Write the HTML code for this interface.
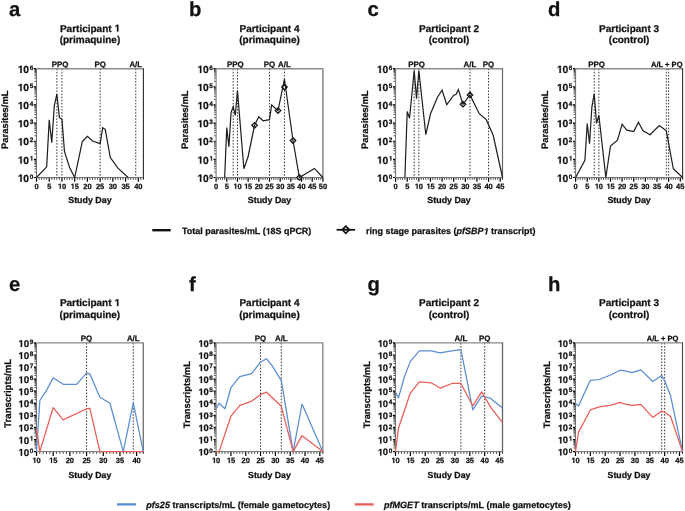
<!DOCTYPE html>
<html><head><meta charset="utf-8"><style>
html,body{margin:0;padding:0;background:#fff;}
body{width:685px;height:511px;overflow:hidden;}
svg{display:block;font-family:"Liberation Sans", sans-serif;} text{stroke:#111;stroke-width:0.25px;} .g1{fill:#111;stroke:#111;stroke-width:0.25px;} svg{will-change:transform;text-rendering:geometricPrecision;}
</style></head><body>
<svg width="685" height="511" viewBox="0 0 685 511" fill="#111">
<defs><path id="o1" d="M538 0L538 1170L200 959L200 1180L553 1409L819 1409L819 0Z" vector-effect="non-scaling-stroke"/><path id="o2" d="M440 0L664 1152L283 938L330 1180L726 1409L996 1409L721 0Z" vector-effect="non-scaling-stroke"/></defs><rect width="685" height="511" fill="#fff"></rect>
<text x="9.1" y="15.6" font-size="20.3" font-weight="bold">a</text>
<text x="89.95" y="31.6" font-size="10" font-weight="bold" text-anchor="middle">Participant  </text>
<text x="89.95" y="43.1" font-size="10" font-weight="bold" text-anchor="middle">(primaquine)</text>
<line x1="56.86" y1="68.7" x2="56.86" y2="177.5" stroke="#222" stroke-width="0.9" stroke-dasharray="1.55 1.55"></line>
<line x1="61.95" y1="68.7" x2="61.95" y2="177.5" stroke="#222" stroke-width="0.9" stroke-dasharray="1.55 1.55"></line>
<line x1="100.13" y1="68.7" x2="100.13" y2="177.5" stroke="#222" stroke-width="0.9" stroke-dasharray="1.55 1.55"></line>
<line x1="135.76" y1="68.7" x2="135.76" y2="177.5" stroke="#222" stroke-width="0.9" stroke-dasharray="1.55 1.55"></line>
<text x="60.04" y="66.6" font-size="7.9" font-weight="bold" text-anchor="middle">PPQ</text>
<text x="100.13" y="66.6" font-size="7.9" font-weight="bold" text-anchor="middle">PQ</text>
<text x="135.76" y="66.6" font-size="7.9" font-weight="bold" text-anchor="middle">A/L</text>
<path d="M36.5 68.7H143.4" fill="none" stroke="#8a8a8a" stroke-width="1.4"></path>
<path d="M143.4 68.2V179" fill="none" stroke="#2a2a2a" stroke-width="1.1"></path>
<path d="M36.5 68.7V177.5H143.4" fill="none" stroke="#707070" stroke-width="1.0"></path>
<path d="M34.5 172.04H36 M34.5 168.85H36 M34.5 166.58H36 M34.5 164.83H36 M34.5 163.39H36 M34.5 162.18H36 M34.5 161.12H36 M34.5 160.2H36 M34.5 153.91H36 M34.5 150.71H36 M34.5 148.45H36 M34.5 146.69H36 M34.5 145.26H36 M34.5 144.04H36 M34.5 142.99H36 M34.5 142.06H36 M34.5 135.77H36 M34.5 132.58H36 M34.5 130.32H36 M34.5 128.56H36 M34.5 127.12H36 M34.5 125.91H36 M34.5 124.86H36 M34.5 123.93H36 M34.5 117.64H36 M34.5 114.45H36 M34.5 112.18H36 M34.5 110.43H36 M34.5 108.99H36 M34.5 107.78H36 M34.5 106.72H36 M34.5 105.8H36 M34.5 99.51H36 M34.5 96.31H36 M34.5 94.05H36 M34.5 92.29H36 M34.5 90.86H36 M34.5 89.64H36 M34.5 88.59H36 M34.5 87.66H36 M34.5 81.37H36 M34.5 78.18H36 M34.5 75.92H36 M34.5 74.16H36 M34.5 72.72H36 M34.5 71.51H36 M34.5 70.46H36 M34.5 69.53H36 M39.05 178V179.8 M41.59 178V179.8 M44.14 178V179.8 M46.68 178V179.8 M51.77 178V179.8 M54.32 178V179.8 M56.86 178V179.8 M59.41 178V179.8 M64.5 178V179.8 M67.04 178V179.8 M69.59 178V179.8 M72.13 178V179.8 M77.22 178V179.8 M79.77 178V179.8 M82.31 178V179.8 M84.86 178V179.8 M89.95 178V179.8 M92.5 178V179.8 M95.04 178V179.8 M97.59 178V179.8 M102.68 178V179.8 M105.22 178V179.8 M107.77 178V179.8 M110.31 178V179.8 M115.4 178V179.8 M117.95 178V179.8 M120.49 178V179.8 M123.04 178V179.8 M128.13 178V179.8 M130.67 178V179.8 M133.22 178V179.8 M135.76 178V179.8 M140.85 178V179.8 M143.4 178V179.8" stroke="#222" stroke-width="0.85" fill="none"></path>
<path d="M33.9 177.5H36 M33.9 159.37H36 M33.9 141.23H36 M33.9 123.1H36 M33.9 104.97H36 M33.9 86.83H36 M33.9 68.7H36 M36.5 178V181.8 M49.23 178V181.8 M61.95 178V181.8 M74.68 178V181.8 M87.4 178V181.8 M100.13 178V181.8 M112.86 178V181.8 M125.58 178V181.8 M138.31 178V181.8" stroke="#000" stroke-width="1.2" fill="none"></path>
<text x="29.1" y="181.71" font-size="10.3" font-weight="bold" text-anchor="end"> 0</text>
<text x="29.7" y="178.7" font-size="6.4" font-weight="bold">0</text>
<text x="29.1" y="163.57" font-size="10.3" font-weight="bold" text-anchor="end"> 0</text>
<text x="29.7" y="160.57" font-size="6.4" font-weight="bold"> </text>
<text x="29.1" y="145.44" font-size="10.3" font-weight="bold" text-anchor="end"> 0</text>
<text x="29.7" y="142.43" font-size="6.4" font-weight="bold">2</text>
<text x="29.1" y="127.31" font-size="10.3" font-weight="bold" text-anchor="end"> 0</text>
<text x="29.7" y="124.3" font-size="6.4" font-weight="bold">3</text>
<text x="29.1" y="109.17" font-size="10.3" font-weight="bold" text-anchor="end"> 0</text>
<text x="29.7" y="106.17" font-size="6.4" font-weight="bold">4</text>
<text x="29.1" y="91.04" font-size="10.3" font-weight="bold" text-anchor="end"> 0</text>
<text x="29.7" y="88.03" font-size="6.4" font-weight="bold">5</text>
<text x="29.1" y="72.91" font-size="10.3" font-weight="bold" text-anchor="end"> 0</text>
<text x="29.7" y="69.9" font-size="6.4" font-weight="bold">6</text>
<text x="36.5" y="188.8" font-size="7.5" font-weight="bold" text-anchor="middle">0</text>
<text x="49.23" y="188.8" font-size="7.5" font-weight="bold" text-anchor="middle">5</text>
<text x="61.95" y="188.8" font-size="7.5" font-weight="bold" text-anchor="middle"> 0</text>
<text x="74.68" y="188.8" font-size="7.5" font-weight="bold" text-anchor="middle"> 5</text>
<text x="87.4" y="188.8" font-size="7.5" font-weight="bold" text-anchor="middle">20</text>
<text x="100.13" y="188.8" font-size="7.5" font-weight="bold" text-anchor="middle">25</text>
<text x="112.86" y="188.8" font-size="7.5" font-weight="bold" text-anchor="middle">30</text>
<text x="125.58" y="188.8" font-size="7.5" font-weight="bold" text-anchor="middle">35</text>
<text x="138.31" y="188.8" font-size="7.5" font-weight="bold" text-anchor="middle">40</text>
<text x="89.95" y="203" font-size="8.9" font-weight="bold" text-anchor="middle">Study Day</text>
<text transform="translate(8 119.7) rotate(-90)" font-size="9.4" font-weight="bold" text-anchor="middle">Parasites/mL</text>
<polyline points="36.5,177.5 46.68,166.8 49.23,119.84 51.77,142.68 54.32,105.69 56.86,94.09 59.41,117.48 61.95,119.65 64.5,151.75 69.59,167.53 74.68,177.5 82.31,141.6 87.4,136.34 92.5,141.05 100.13,143.59 102.68,127.63 105.22,129.27 110.31,157.55 117.95,168.07 128.13,177.5" fill="none" stroke="#1c1c1c" stroke-width="1.2" stroke-linejoin="miter"></polyline>
<text x="188.9" y="15.6" font-size="20.3" font-weight="bold">b</text>
<text x="269.5" y="31.6" font-size="10" font-weight="bold" text-anchor="middle">Participant 4</text>
<text x="269.5" y="43.1" font-size="10" font-weight="bold" text-anchor="middle">(primaquine)</text>
<line x1="233.19" y1="68.7" x2="233.19" y2="177.5" stroke="#222" stroke-width="0.9" stroke-dasharray="1.55 1.55"></line>
<line x1="237.46" y1="68.7" x2="237.46" y2="177.5" stroke="#222" stroke-width="0.9" stroke-dasharray="1.55 1.55"></line>
<line x1="269.5" y1="68.7" x2="269.5" y2="177.5" stroke="#222" stroke-width="0.9" stroke-dasharray="1.55 1.55"></line>
<line x1="284.45" y1="68.7" x2="284.45" y2="177.5" stroke="#222" stroke-width="0.9" stroke-dasharray="1.55 1.55"></line>
<text x="235.32" y="66.6" font-size="7.9" font-weight="bold" text-anchor="middle">PPQ</text>
<text x="269.5" y="66.6" font-size="7.9" font-weight="bold" text-anchor="middle">PQ</text>
<text x="284.45" y="66.6" font-size="7.9" font-weight="bold" text-anchor="middle">A/L</text>
<path d="M216.1 68.7H322.9" fill="none" stroke="#8a8a8a" stroke-width="1.4"></path>
<path d="M322.9 68.2V179" fill="none" stroke="#888" stroke-width="1.5"></path>
<path d="M216.1 68.7V177.5H322.9" fill="none" stroke="#707070" stroke-width="1.0"></path>
<path d="M214.1 172.04H215.6 M214.1 168.85H215.6 M214.1 166.58H215.6 M214.1 164.83H215.6 M214.1 163.39H215.6 M214.1 162.18H215.6 M214.1 161.12H215.6 M214.1 160.2H215.6 M214.1 153.91H215.6 M214.1 150.71H215.6 M214.1 148.45H215.6 M214.1 146.69H215.6 M214.1 145.26H215.6 M214.1 144.04H215.6 M214.1 142.99H215.6 M214.1 142.06H215.6 M214.1 135.77H215.6 M214.1 132.58H215.6 M214.1 130.32H215.6 M214.1 128.56H215.6 M214.1 127.12H215.6 M214.1 125.91H215.6 M214.1 124.86H215.6 M214.1 123.93H215.6 M214.1 117.64H215.6 M214.1 114.45H215.6 M214.1 112.18H215.6 M214.1 110.43H215.6 M214.1 108.99H215.6 M214.1 107.78H215.6 M214.1 106.72H215.6 M214.1 105.8H215.6 M214.1 99.51H215.6 M214.1 96.31H215.6 M214.1 94.05H215.6 M214.1 92.29H215.6 M214.1 90.86H215.6 M214.1 89.64H215.6 M214.1 88.59H215.6 M214.1 87.66H215.6 M214.1 81.37H215.6 M214.1 78.18H215.6 M214.1 75.92H215.6 M214.1 74.16H215.6 M214.1 72.72H215.6 M214.1 71.51H215.6 M214.1 70.46H215.6 M214.1 69.53H215.6 M218.24 178V179.8 M220.37 178V179.8 M222.51 178V179.8 M224.64 178V179.8 M228.92 178V179.8 M231.05 178V179.8 M233.19 178V179.8 M235.32 178V179.8 M239.6 178V179.8 M241.73 178V179.8 M243.87 178V179.8 M246 178V179.8 M250.28 178V179.8 M252.41 178V179.8 M254.55 178V179.8 M256.68 178V179.8 M260.96 178V179.8 M263.09 178V179.8 M265.23 178V179.8 M267.36 178V179.8 M271.64 178V179.8 M273.77 178V179.8 M275.91 178V179.8 M278.04 178V179.8 M282.32 178V179.8 M284.45 178V179.8 M286.59 178V179.8 M288.72 178V179.8 M293 178V179.8 M295.13 178V179.8 M297.27 178V179.8 M299.4 178V179.8 M303.68 178V179.8 M305.81 178V179.8 M307.95 178V179.8 M310.08 178V179.8 M314.36 178V179.8 M316.49 178V179.8 M318.63 178V179.8 M320.76 178V179.8" stroke="#222" stroke-width="0.85" fill="none"></path>
<path d="M213.5 177.5H215.6 M213.5 159.37H215.6 M213.5 141.23H215.6 M213.5 123.1H215.6 M213.5 104.97H215.6 M213.5 86.83H215.6 M213.5 68.7H215.6 M216.1 178V181.8 M226.78 178V181.8 M237.46 178V181.8 M248.14 178V181.8 M258.82 178V181.8 M269.5 178V181.8 M280.18 178V181.8 M290.86 178V181.8 M301.54 178V181.8 M312.22 178V181.8 M322.9 178V181.8" stroke="#000" stroke-width="1.2" fill="none"></path>
<text x="208.7" y="181.71" font-size="10.3" font-weight="bold" text-anchor="end"> 0</text>
<text x="209.3" y="178.7" font-size="6.4" font-weight="bold">0</text>
<text x="208.7" y="163.57" font-size="10.3" font-weight="bold" text-anchor="end"> 0</text>
<text x="209.3" y="160.57" font-size="6.4" font-weight="bold"> </text>
<text x="208.7" y="145.44" font-size="10.3" font-weight="bold" text-anchor="end"> 0</text>
<text x="209.3" y="142.43" font-size="6.4" font-weight="bold">2</text>
<text x="208.7" y="127.31" font-size="10.3" font-weight="bold" text-anchor="end"> 0</text>
<text x="209.3" y="124.3" font-size="6.4" font-weight="bold">3</text>
<text x="208.7" y="109.17" font-size="10.3" font-weight="bold" text-anchor="end"> 0</text>
<text x="209.3" y="106.17" font-size="6.4" font-weight="bold">4</text>
<text x="208.7" y="91.04" font-size="10.3" font-weight="bold" text-anchor="end"> 0</text>
<text x="209.3" y="88.03" font-size="6.4" font-weight="bold">5</text>
<text x="208.7" y="72.91" font-size="10.3" font-weight="bold" text-anchor="end"> 0</text>
<text x="209.3" y="69.9" font-size="6.4" font-weight="bold">6</text>
<text x="216.1" y="188.8" font-size="7.5" font-weight="bold" text-anchor="middle">0</text>
<text x="226.78" y="188.8" font-size="7.5" font-weight="bold" text-anchor="middle">5</text>
<text x="237.46" y="188.8" font-size="7.5" font-weight="bold" text-anchor="middle"> 0</text>
<text x="248.14" y="188.8" font-size="7.5" font-weight="bold" text-anchor="middle"> 5</text>
<text x="258.82" y="188.8" font-size="7.5" font-weight="bold" text-anchor="middle">20</text>
<text x="269.5" y="188.8" font-size="7.5" font-weight="bold" text-anchor="middle">25</text>
<text x="280.18" y="188.8" font-size="7.5" font-weight="bold" text-anchor="middle">30</text>
<text x="290.86" y="188.8" font-size="7.5" font-weight="bold" text-anchor="middle">35</text>
<text x="301.54" y="188.8" font-size="7.5" font-weight="bold" text-anchor="middle">40</text>
<text x="312.22" y="188.8" font-size="7.5" font-weight="bold" text-anchor="middle">45</text>
<text x="322.9" y="188.8" font-size="7.5" font-weight="bold" text-anchor="middle">50</text>
<text x="269.5" y="203" font-size="8.9" font-weight="bold" text-anchor="middle">Study Day</text>
<text transform="translate(188.4 119.7) rotate(-90)" font-size="9.4" font-weight="bold" text-anchor="middle">Parasites/mL</text>
<path d="M254.55 122.58L257.25 125.28L254.55 127.98L251.85 125.28Z" fill="#fff" stroke="#111" stroke-width="1.3"></path>
<path d="M278.04 107.89L280.74 110.59L278.04 113.29L275.34 110.59Z" fill="#fff" stroke="#111" stroke-width="1.3"></path>
<path d="M284.45 84.31L287.15 87.01L284.45 89.71L281.75 87.01Z" fill="#fff" stroke="#111" stroke-width="1.3"></path>
<path d="M293 137.81L295.7 140.51L293 143.21L290.3 140.51Z" fill="#fff" stroke="#111" stroke-width="1.3"></path>
<path d="M299.4 174.8L302.1 177.5L299.4 180.2L296.7 177.5Z" fill="#fff" stroke="#111" stroke-width="1.3"></path>
<polyline points="224.64,177.5 226.78,127.45 228.92,146.67 231.05,112.58 233.19,106.78 235.32,115.48 237.46,90.46 243.87,168.8 248.14,156.47 254.55,125.28 258.82,116.75 263.09,120.74 269.5,119.65 271.64,104.97 278.04,110.59 284.45,79.22 293,140.51 299.4,177.5 314.36,168.43 322.9,177.5" fill="none" stroke="#1c1c1c" stroke-width="1.2" stroke-linejoin="miter"></polyline>
<text x="367.6" y="15.6" font-size="20.3" font-weight="bold">c</text>
<text x="449.05" y="31.6" font-size="10" font-weight="bold" text-anchor="middle">Participant 2</text>
<text x="449.05" y="43.1" font-size="10" font-weight="bold" text-anchor="middle">(control)</text>
<line x1="414.19" y1="68.7" x2="414.19" y2="177.5" stroke="#222" stroke-width="0.9" stroke-dasharray="1.55 1.55"></line>
<line x1="418.84" y1="68.7" x2="418.84" y2="177.5" stroke="#222" stroke-width="0.9" stroke-dasharray="1.55 1.55"></line>
<line x1="469.97" y1="68.7" x2="469.97" y2="177.5" stroke="#222" stroke-width="0.9" stroke-dasharray="1.55 1.55"></line>
<line x1="488.56" y1="68.7" x2="488.56" y2="177.5" stroke="#222" stroke-width="0.9" stroke-dasharray="1.55 1.55"></line>
<text x="416.52" y="66.6" font-size="7.9" font-weight="bold" text-anchor="middle">PPQ</text>
<text x="469.97" y="66.6" font-size="7.9" font-weight="bold" text-anchor="middle">A/L</text>
<text x="488.56" y="66.6" font-size="7.9" font-weight="bold" text-anchor="middle">PQ</text>
<path d="M395.6 68.7H502.5" fill="none" stroke="#8a8a8a" stroke-width="1.4"></path>
<path d="M502.5 68.2V179" fill="none" stroke="#666" stroke-width="1.2"></path>
<path d="M395.6 68.7V177.5H502.5" fill="none" stroke="#707070" stroke-width="1.0"></path>
<path d="M393.6 172.04H395.1 M393.6 168.85H395.1 M393.6 166.58H395.1 M393.6 164.83H395.1 M393.6 163.39H395.1 M393.6 162.18H395.1 M393.6 161.12H395.1 M393.6 160.2H395.1 M393.6 153.91H395.1 M393.6 150.71H395.1 M393.6 148.45H395.1 M393.6 146.69H395.1 M393.6 145.26H395.1 M393.6 144.04H395.1 M393.6 142.99H395.1 M393.6 142.06H395.1 M393.6 135.77H395.1 M393.6 132.58H395.1 M393.6 130.32H395.1 M393.6 128.56H395.1 M393.6 127.12H395.1 M393.6 125.91H395.1 M393.6 124.86H395.1 M393.6 123.93H395.1 M393.6 117.64H395.1 M393.6 114.45H395.1 M393.6 112.18H395.1 M393.6 110.43H395.1 M393.6 108.99H395.1 M393.6 107.78H395.1 M393.6 106.72H395.1 M393.6 105.8H395.1 M393.6 99.51H395.1 M393.6 96.31H395.1 M393.6 94.05H395.1 M393.6 92.29H395.1 M393.6 90.86H395.1 M393.6 89.64H395.1 M393.6 88.59H395.1 M393.6 87.66H395.1 M393.6 81.37H395.1 M393.6 78.18H395.1 M393.6 75.92H395.1 M393.6 74.16H395.1 M393.6 72.72H395.1 M393.6 71.51H395.1 M393.6 70.46H395.1 M393.6 69.53H395.1 M397.92 178V179.8 M400.25 178V179.8 M402.57 178V179.8 M404.9 178V179.8 M409.54 178V179.8 M411.87 178V179.8 M414.19 178V179.8 M416.52 178V179.8 M421.16 178V179.8 M423.49 178V179.8 M425.81 178V179.8 M428.13 178V179.8 M432.78 178V179.8 M435.11 178V179.8 M437.43 178V179.8 M439.75 178V179.8 M444.4 178V179.8 M446.73 178V179.8 M449.05 178V179.8 M451.37 178V179.8 M456.02 178V179.8 M458.35 178V179.8 M460.67 178V179.8 M462.99 178V179.8 M467.64 178V179.8 M469.97 178V179.8 M472.29 178V179.8 M474.61 178V179.8 M479.26 178V179.8 M481.58 178V179.8 M483.91 178V179.8 M486.23 178V179.8 M490.88 178V179.8 M493.2 178V179.8 M495.53 178V179.8 M497.85 178V179.8 M502.5 178V179.8" stroke="#222" stroke-width="0.85" fill="none"></path>
<path d="M393 177.5H395.1 M393 159.37H395.1 M393 141.23H395.1 M393 123.1H395.1 M393 104.97H395.1 M393 86.83H395.1 M393 68.7H395.1 M395.6 178V181.8 M407.22 178V181.8 M418.84 178V181.8 M430.46 178V181.8 M442.08 178V181.8 M453.7 178V181.8 M465.32 178V181.8 M476.94 178V181.8 M488.56 178V181.8 M500.18 178V181.8" stroke="#000" stroke-width="1.2" fill="none"></path>
<text x="388.2" y="181.71" font-size="10.3" font-weight="bold" text-anchor="end"> 0</text>
<text x="388.8" y="178.7" font-size="6.4" font-weight="bold">0</text>
<text x="388.2" y="163.57" font-size="10.3" font-weight="bold" text-anchor="end"> 0</text>
<text x="388.8" y="160.57" font-size="6.4" font-weight="bold"> </text>
<text x="388.2" y="145.44" font-size="10.3" font-weight="bold" text-anchor="end"> 0</text>
<text x="388.8" y="142.43" font-size="6.4" font-weight="bold">2</text>
<text x="388.2" y="127.31" font-size="10.3" font-weight="bold" text-anchor="end"> 0</text>
<text x="388.8" y="124.3" font-size="6.4" font-weight="bold">3</text>
<text x="388.2" y="109.17" font-size="10.3" font-weight="bold" text-anchor="end"> 0</text>
<text x="388.8" y="106.17" font-size="6.4" font-weight="bold">4</text>
<text x="388.2" y="91.04" font-size="10.3" font-weight="bold" text-anchor="end"> 0</text>
<text x="388.8" y="88.03" font-size="6.4" font-weight="bold">5</text>
<text x="388.2" y="72.91" font-size="10.3" font-weight="bold" text-anchor="end"> 0</text>
<text x="388.8" y="69.9" font-size="6.4" font-weight="bold">6</text>
<text x="395.6" y="188.8" font-size="7.5" font-weight="bold" text-anchor="middle">0</text>
<text x="407.22" y="188.8" font-size="7.5" font-weight="bold" text-anchor="middle">5</text>
<text x="418.84" y="188.8" font-size="7.5" font-weight="bold" text-anchor="middle"> 0</text>
<text x="430.46" y="188.8" font-size="7.5" font-weight="bold" text-anchor="middle"> 5</text>
<text x="442.08" y="188.8" font-size="7.5" font-weight="bold" text-anchor="middle">20</text>
<text x="453.7" y="188.8" font-size="7.5" font-weight="bold" text-anchor="middle">25</text>
<text x="465.32" y="188.8" font-size="7.5" font-weight="bold" text-anchor="middle">30</text>
<text x="476.94" y="188.8" font-size="7.5" font-weight="bold" text-anchor="middle">35</text>
<text x="488.56" y="188.8" font-size="7.5" font-weight="bold" text-anchor="middle">40</text>
<text x="500.18" y="188.8" font-size="7.5" font-weight="bold" text-anchor="middle">45</text>
<text x="449.05" y="203" font-size="8.9" font-weight="bold" text-anchor="middle">Study Day</text>
<text transform="translate(368.1 119.7) rotate(-90)" font-size="9.4" font-weight="bold" text-anchor="middle">Parasites/mL</text>
<path d="M462.99 101.54L465.69 104.24L462.99 106.94L460.29 104.24Z" fill="#fff" stroke="#111" stroke-width="1.3"></path>
<path d="M469.97 92.29L472.67 94.99L469.97 97.69L467.27 94.99Z" fill="#fff" stroke="#111" stroke-width="1.3"></path>
<polyline points="404.9,177.5 407.22,111.49 409.54,118.2 414.19,70.51 416.52,98.62 418.84,70.51 425.81,134.71 430.46,114.03 437.43,97.17 442.08,90.1 446.73,104.79 453.7,95.17 456.02,94.45 458.35,89.55 462.99,104.24 469.97,94.99 479.26,113.67 486.23,119.65 493.2,135.25 502.5,177.5" fill="none" stroke="#1c1c1c" stroke-width="1.2" stroke-linejoin="miter"></polyline>
<text x="547.9" y="15.6" font-size="20.3" font-weight="bold">d</text>
<text x="629.1" y="31.6" font-size="10" font-weight="bold" text-anchor="middle">Participant 3</text>
<text x="629.1" y="43.1" font-size="10" font-weight="bold" text-anchor="middle">(control)</text>
<line x1="594.21" y1="68.7" x2="594.21" y2="177.5" stroke="#222" stroke-width="0.9" stroke-dasharray="1.55 1.55"></line>
<line x1="598.86" y1="68.7" x2="598.86" y2="177.5" stroke="#222" stroke-width="0.9" stroke-dasharray="1.55 1.55"></line>
<line x1="666.32" y1="68.7" x2="666.32" y2="177.5" stroke="#222" stroke-width="0.9" stroke-dasharray="1.55 1.55"></line>
<line x1="668.64" y1="68.7" x2="668.64" y2="177.5" stroke="#222" stroke-width="0.9" stroke-dasharray="1.55 1.55"></line>
<text x="596.53" y="66.6" font-size="7.9" font-weight="bold" text-anchor="middle">PPQ</text>
<text x="666.78" y="66.6" font-size="7.55" font-weight="bold" text-anchor="middle">A/L + PQ</text>
<path d="M575.6 68.7H682.6" fill="none" stroke="#8a8a8a" stroke-width="1.4"></path>
<path d="M682.6 68.2V179" fill="none" stroke="#333" stroke-width="1.1"></path>
<path d="M575.6 68.7V177.5H682.6" fill="none" stroke="#707070" stroke-width="1.0"></path>
<path d="M573.6 172.04H575.1 M573.6 168.85H575.1 M573.6 166.58H575.1 M573.6 164.83H575.1 M573.6 163.39H575.1 M573.6 162.18H575.1 M573.6 161.12H575.1 M573.6 160.2H575.1 M573.6 153.91H575.1 M573.6 150.71H575.1 M573.6 148.45H575.1 M573.6 146.69H575.1 M573.6 145.26H575.1 M573.6 144.04H575.1 M573.6 142.99H575.1 M573.6 142.06H575.1 M573.6 135.77H575.1 M573.6 132.58H575.1 M573.6 130.32H575.1 M573.6 128.56H575.1 M573.6 127.12H575.1 M573.6 125.91H575.1 M573.6 124.86H575.1 M573.6 123.93H575.1 M573.6 117.64H575.1 M573.6 114.45H575.1 M573.6 112.18H575.1 M573.6 110.43H575.1 M573.6 108.99H575.1 M573.6 107.78H575.1 M573.6 106.72H575.1 M573.6 105.8H575.1 M573.6 99.51H575.1 M573.6 96.31H575.1 M573.6 94.05H575.1 M573.6 92.29H575.1 M573.6 90.86H575.1 M573.6 89.64H575.1 M573.6 88.59H575.1 M573.6 87.66H575.1 M573.6 81.37H575.1 M573.6 78.18H575.1 M573.6 75.92H575.1 M573.6 74.16H575.1 M573.6 72.72H575.1 M573.6 71.51H575.1 M573.6 70.46H575.1 M573.6 69.53H575.1 M577.93 178V179.8 M580.25 178V179.8 M582.58 178V179.8 M584.9 178V179.8 M589.56 178V179.8 M591.88 178V179.8 M594.21 178V179.8 M596.53 178V179.8 M601.19 178V179.8 M603.51 178V179.8 M605.84 178V179.8 M608.17 178V179.8 M612.82 178V179.8 M615.14 178V179.8 M617.47 178V179.8 M619.8 178V179.8 M624.45 178V179.8 M626.77 178V179.8 M629.1 178V179.8 M631.43 178V179.8 M636.08 178V179.8 M638.4 178V179.8 M640.73 178V179.8 M643.06 178V179.8 M647.71 178V179.8 M650.03 178V179.8 M652.36 178V179.8 M654.69 178V179.8 M659.34 178V179.8 M661.67 178V179.8 M663.99 178V179.8 M666.32 178V179.8 M670.97 178V179.8 M673.3 178V179.8 M675.62 178V179.8 M677.95 178V179.8 M682.6 178V179.8" stroke="#222" stroke-width="0.85" fill="none"></path>
<path d="M573 177.5H575.1 M573 159.37H575.1 M573 141.23H575.1 M573 123.1H575.1 M573 104.97H575.1 M573 86.83H575.1 M573 68.7H575.1 M575.6 178V181.8 M587.23 178V181.8 M598.86 178V181.8 M610.49 178V181.8 M622.12 178V181.8 M633.75 178V181.8 M645.38 178V181.8 M657.01 178V181.8 M668.64 178V181.8 M680.27 178V181.8" stroke="#000" stroke-width="1.2" fill="none"></path>
<text x="568.2" y="181.71" font-size="10.3" font-weight="bold" text-anchor="end"> 0</text>
<text x="568.8" y="178.7" font-size="6.4" font-weight="bold">0</text>
<text x="568.2" y="163.57" font-size="10.3" font-weight="bold" text-anchor="end"> 0</text>
<text x="568.8" y="160.57" font-size="6.4" font-weight="bold"> </text>
<text x="568.2" y="145.44" font-size="10.3" font-weight="bold" text-anchor="end"> 0</text>
<text x="568.8" y="142.43" font-size="6.4" font-weight="bold">2</text>
<text x="568.2" y="127.31" font-size="10.3" font-weight="bold" text-anchor="end"> 0</text>
<text x="568.8" y="124.3" font-size="6.4" font-weight="bold">3</text>
<text x="568.2" y="109.17" font-size="10.3" font-weight="bold" text-anchor="end"> 0</text>
<text x="568.8" y="106.17" font-size="6.4" font-weight="bold">4</text>
<text x="568.2" y="91.04" font-size="10.3" font-weight="bold" text-anchor="end"> 0</text>
<text x="568.8" y="88.03" font-size="6.4" font-weight="bold">5</text>
<text x="568.2" y="72.91" font-size="10.3" font-weight="bold" text-anchor="end"> 0</text>
<text x="568.8" y="69.9" font-size="6.4" font-weight="bold">6</text>
<text x="575.6" y="188.8" font-size="7.5" font-weight="bold" text-anchor="middle">0</text>
<text x="587.23" y="188.8" font-size="7.5" font-weight="bold" text-anchor="middle">5</text>
<text x="598.86" y="188.8" font-size="7.5" font-weight="bold" text-anchor="middle"> 0</text>
<text x="610.49" y="188.8" font-size="7.5" font-weight="bold" text-anchor="middle"> 5</text>
<text x="622.12" y="188.8" font-size="7.5" font-weight="bold" text-anchor="middle">20</text>
<text x="633.75" y="188.8" font-size="7.5" font-weight="bold" text-anchor="middle">25</text>
<text x="645.38" y="188.8" font-size="7.5" font-weight="bold" text-anchor="middle">30</text>
<text x="657.01" y="188.8" font-size="7.5" font-weight="bold" text-anchor="middle">35</text>
<text x="668.64" y="188.8" font-size="7.5" font-weight="bold" text-anchor="middle">40</text>
<text x="680.27" y="188.8" font-size="7.5" font-weight="bold" text-anchor="middle">45</text>
<text x="629.1" y="203" font-size="8.9" font-weight="bold" text-anchor="middle">Study Day</text>
<text transform="translate(548.1 119.7) rotate(-90)" font-size="9.4" font-weight="bold" text-anchor="middle">Parasites/mL</text>
<polyline points="575.6,177.5 584.9,160.27 587.23,123.46 589.56,143.77 591.88,106.78 594.21,93.91 596.53,123.46 598.86,115.3 605.84,177.5 610.49,145.95 617.47,140.15 622.12,124.19 626.77,130.17 633.75,131.62 638.4,122.19 643.06,130.9 650.03,134.71 659.34,125.46 666.32,130.9 673.3,168.8 682.6,177.5" fill="none" stroke="#1c1c1c" stroke-width="1.2" stroke-linejoin="miter"></polyline>
<text x="9.1" y="290.6" font-size="20.3" font-weight="bold">e</text>
<text x="89.9" y="306.1" font-size="10" font-weight="bold" text-anchor="middle">Participant  </text>
<text x="89.9" y="317.6" font-size="10" font-weight="bold" text-anchor="middle">(primaquine)</text>
<line x1="86.56" y1="342.9" x2="86.56" y2="451.6" stroke="#222" stroke-width="0.9" stroke-dasharray="1.55 1.55"></line>
<line x1="133.29" y1="342.9" x2="133.29" y2="451.6" stroke="#222" stroke-width="0.9" stroke-dasharray="1.55 1.55"></line>
<text x="86.56" y="341.1" font-size="7.9" font-weight="bold" text-anchor="middle">PQ</text>
<text x="133.29" y="341.1" font-size="7.9" font-weight="bold" text-anchor="middle">A/L</text>
<path d="M36.5 342.9H143.3" fill="none" stroke="#8a8a8a" stroke-width="1.4"></path>
<path d="M143.3 342.4V453.1" fill="none" stroke="#777" stroke-width="1.4"></path>
<path d="M36.5 342.9V451.6H143.3" fill="none" stroke="#707070" stroke-width="1.0"></path>
<path d="M34.5 447.96H36 M34.5 445.84H36 M34.5 444.33H36 M34.5 443.16H36 M34.5 442.2H36 M34.5 441.39H36 M34.5 440.69H36 M34.5 440.07H36 M34.5 435.89H36 M34.5 433.76H36 M34.5 432.25H36 M34.5 431.08H36 M34.5 430.12H36 M34.5 429.32H36 M34.5 428.61H36 M34.5 428H36 M34.5 423.81H36 M34.5 421.68H36 M34.5 420.17H36 M34.5 419H36 M34.5 418.05H36 M34.5 417.24H36 M34.5 416.54H36 M34.5 415.92H36 M34.5 411.73H36 M34.5 409.6H36 M34.5 408.1H36 M34.5 406.92H36 M34.5 405.97H36 M34.5 405.16H36 M34.5 404.46H36 M34.5 403.84H36 M34.5 399.65H36 M34.5 397.53H36 M34.5 396.02H36 M34.5 394.85H36 M34.5 393.89H36 M34.5 393.08H36 M34.5 392.38H36 M34.5 391.76H36 M34.5 387.58H36 M34.5 385.45H36 M34.5 383.94H36 M34.5 382.77H36 M34.5 381.81H36 M34.5 381H36 M34.5 380.3H36 M34.5 379.69H36 M34.5 375.5H36 M34.5 373.37H36 M34.5 371.86H36 M34.5 370.69H36 M34.5 369.73H36 M34.5 368.93H36 M34.5 368.23H36 M34.5 367.61H36 M34.5 363.42H36 M34.5 361.29H36 M34.5 359.78H36 M34.5 358.61H36 M34.5 357.66H36 M34.5 356.85H36 M34.5 356.15H36 M34.5 355.53H36 M34.5 351.34H36 M34.5 349.22H36 M34.5 347.71H36 M34.5 346.54H36 M34.5 345.58H36 M34.5 344.77H36 M34.5 344.07H36 M34.5 343.45H36 M39.84 452.1V453.9 M43.17 452.1V453.9 M46.51 452.1V453.9 M49.85 452.1V453.9 M56.53 452.1V453.9 M59.86 452.1V453.9 M63.2 452.1V453.9 M66.54 452.1V453.9 M73.21 452.1V453.9 M76.55 452.1V453.9 M79.89 452.1V453.9 M83.23 452.1V453.9 M89.9 452.1V453.9 M93.24 452.1V453.9 M96.58 452.1V453.9 M99.91 452.1V453.9 M106.59 452.1V453.9 M109.93 452.1V453.9 M113.26 452.1V453.9 M116.6 452.1V453.9 M123.28 452.1V453.9 M126.61 452.1V453.9 M129.95 452.1V453.9 M133.29 452.1V453.9 M139.96 452.1V453.9 M143.3 452.1V453.9" stroke="#222" stroke-width="0.85" fill="none"></path>
<path d="M33.9 451.6H36 M33.9 439.52H36 M33.9 427.44H36 M33.9 415.37H36 M33.9 403.29H36 M33.9 391.21H36 M33.9 379.13H36 M33.9 367.06H36 M33.9 354.98H36 M33.9 342.9H36 M36.5 452.1V455.9 M53.19 452.1V455.9 M69.88 452.1V455.9 M86.56 452.1V455.9 M103.25 452.1V455.9 M119.94 452.1V455.9 M136.62 452.1V455.9" stroke="#000" stroke-width="1.2" fill="none"></path>
<text x="29.1" y="455.63" font-size="9.8" font-weight="bold" text-anchor="end"> 0</text>
<text x="29.7" y="452.8" font-size="6.4" font-weight="bold">0</text>
<text x="29.1" y="443.55" font-size="9.8" font-weight="bold" text-anchor="end"> 0</text>
<text x="29.7" y="440.72" font-size="6.4" font-weight="bold"> </text>
<text x="29.1" y="431.47" font-size="9.8" font-weight="bold" text-anchor="end"> 0</text>
<text x="29.7" y="428.64" font-size="6.4" font-weight="bold">2</text>
<text x="29.1" y="419.39" font-size="9.8" font-weight="bold" text-anchor="end"> 0</text>
<text x="29.7" y="416.57" font-size="6.4" font-weight="bold">3</text>
<text x="29.1" y="407.32" font-size="9.8" font-weight="bold" text-anchor="end"> 0</text>
<text x="29.7" y="404.49" font-size="6.4" font-weight="bold">4</text>
<text x="29.1" y="395.24" font-size="9.8" font-weight="bold" text-anchor="end"> 0</text>
<text x="29.7" y="392.41" font-size="6.4" font-weight="bold">5</text>
<text x="29.1" y="383.16" font-size="9.8" font-weight="bold" text-anchor="end"> 0</text>
<text x="29.7" y="380.33" font-size="6.4" font-weight="bold">6</text>
<text x="29.1" y="371.08" font-size="9.8" font-weight="bold" text-anchor="end"> 0</text>
<text x="29.7" y="368.26" font-size="6.4" font-weight="bold">7</text>
<text x="29.1" y="359.01" font-size="9.8" font-weight="bold" text-anchor="end"> 0</text>
<text x="29.7" y="356.18" font-size="6.4" font-weight="bold">8</text>
<text x="29.1" y="346.93" font-size="9.8" font-weight="bold" text-anchor="end"> 0</text>
<text x="29.7" y="344.1" font-size="6.4" font-weight="bold">9</text>
<text x="36.5" y="462.9" font-size="7.5" font-weight="bold" text-anchor="middle"> 0</text>
<text x="53.19" y="462.9" font-size="7.5" font-weight="bold" text-anchor="middle"> 5</text>
<text x="69.88" y="462.9" font-size="7.5" font-weight="bold" text-anchor="middle">20</text>
<text x="86.56" y="462.9" font-size="7.5" font-weight="bold" text-anchor="middle">25</text>
<text x="103.25" y="462.9" font-size="7.5" font-weight="bold" text-anchor="middle">30</text>
<text x="119.94" y="462.9" font-size="7.5" font-weight="bold" text-anchor="middle">35</text>
<text x="136.62" y="462.9" font-size="7.5" font-weight="bold" text-anchor="middle">40</text>
<text x="89.9" y="477.9" font-size="8.75" font-weight="bold" text-anchor="middle">Study Day</text>
<text transform="translate(10.7 393.35) rotate(-90)" font-size="9.6" font-weight="bold" text-anchor="middle">Transcripts/mL</text>
<polyline points="36.5,451.6 39.84,400.51 46.51,390.37 53.19,377.8 63.2,384.33 76.55,384.33 86.56,373.09 89.9,373.94 99.91,397.25 109.93,403.29 123.28,451.6 133.29,402.81 143.3,451.6" fill="none" stroke="#5a8ed1" stroke-width="1.25" stroke-linejoin="round"></polyline>
<polyline points="36.5,429.14 39.84,451.6 53.19,407.52 63.2,419.84 86.56,408.72 89.9,408.36 99.91,451.6 143.3,451.6" fill="none" stroke="#e95d58" stroke-width="1.25" stroke-linejoin="round"></polyline>
<text x="188.9" y="290.6" font-size="20.3" font-weight="bold">f</text>
<text x="269.45" y="306.1" font-size="10" font-weight="bold" text-anchor="middle">Participant 4</text>
<text x="269.45" y="317.6" font-size="10" font-weight="bold" text-anchor="middle">(primaquine)</text>
<line x1="260.56" y1="342.9" x2="260.56" y2="451.6" stroke="#222" stroke-width="0.9" stroke-dasharray="1.55 1.55"></line>
<line x1="281.31" y1="342.9" x2="281.31" y2="451.6" stroke="#222" stroke-width="0.9" stroke-dasharray="1.55 1.55"></line>
<text x="260.56" y="341.1" font-size="7.9" font-weight="bold" text-anchor="middle">PQ</text>
<text x="281.31" y="341.1" font-size="7.9" font-weight="bold" text-anchor="middle">A/L</text>
<path d="M216.1 342.9H322.8" fill="none" stroke="#8a8a8a" stroke-width="1.4"></path>
<path d="M322.8 342.4V453.1" fill="none" stroke="#999" stroke-width="1.6"></path>
<path d="M216.1 342.9V451.6H322.8" fill="none" stroke="#707070" stroke-width="1.0"></path>
<path d="M214.1 447.96H215.6 M214.1 445.84H215.6 M214.1 444.33H215.6 M214.1 443.16H215.6 M214.1 442.2H215.6 M214.1 441.39H215.6 M214.1 440.69H215.6 M214.1 440.07H215.6 M214.1 435.89H215.6 M214.1 433.76H215.6 M214.1 432.25H215.6 M214.1 431.08H215.6 M214.1 430.12H215.6 M214.1 429.32H215.6 M214.1 428.61H215.6 M214.1 428H215.6 M214.1 423.81H215.6 M214.1 421.68H215.6 M214.1 420.17H215.6 M214.1 419H215.6 M214.1 418.05H215.6 M214.1 417.24H215.6 M214.1 416.54H215.6 M214.1 415.92H215.6 M214.1 411.73H215.6 M214.1 409.6H215.6 M214.1 408.1H215.6 M214.1 406.92H215.6 M214.1 405.97H215.6 M214.1 405.16H215.6 M214.1 404.46H215.6 M214.1 403.84H215.6 M214.1 399.65H215.6 M214.1 397.53H215.6 M214.1 396.02H215.6 M214.1 394.85H215.6 M214.1 393.89H215.6 M214.1 393.08H215.6 M214.1 392.38H215.6 M214.1 391.76H215.6 M214.1 387.58H215.6 M214.1 385.45H215.6 M214.1 383.94H215.6 M214.1 382.77H215.6 M214.1 381.81H215.6 M214.1 381H215.6 M214.1 380.3H215.6 M214.1 379.69H215.6 M214.1 375.5H215.6 M214.1 373.37H215.6 M214.1 371.86H215.6 M214.1 370.69H215.6 M214.1 369.73H215.6 M214.1 368.93H215.6 M214.1 368.23H215.6 M214.1 367.61H215.6 M214.1 363.42H215.6 M214.1 361.29H215.6 M214.1 359.78H215.6 M214.1 358.61H215.6 M214.1 357.66H215.6 M214.1 356.85H215.6 M214.1 356.15H215.6 M214.1 355.53H215.6 M214.1 351.34H215.6 M214.1 349.22H215.6 M214.1 347.71H215.6 M214.1 346.54H215.6 M214.1 345.58H215.6 M214.1 344.77H215.6 M214.1 344.07H215.6 M214.1 343.45H215.6 M219.06 452.1V453.9 M222.03 452.1V453.9 M224.99 452.1V453.9 M227.96 452.1V453.9 M233.88 452.1V453.9 M236.85 452.1V453.9 M239.81 452.1V453.9 M242.78 452.1V453.9 M248.7 452.1V453.9 M251.67 452.1V453.9 M254.63 452.1V453.9 M257.59 452.1V453.9 M263.52 452.1V453.9 M266.49 452.1V453.9 M269.45 452.1V453.9 M272.41 452.1V453.9 M278.34 452.1V453.9 M281.31 452.1V453.9 M284.27 452.1V453.9 M287.23 452.1V453.9 M293.16 452.1V453.9 M296.12 452.1V453.9 M299.09 452.1V453.9 M302.05 452.1V453.9 M307.98 452.1V453.9 M310.94 452.1V453.9 M313.91 452.1V453.9 M316.87 452.1V453.9 M322.8 452.1V453.9" stroke="#222" stroke-width="0.85" fill="none"></path>
<path d="M213.5 451.6H215.6 M213.5 439.52H215.6 M213.5 427.44H215.6 M213.5 415.37H215.6 M213.5 403.29H215.6 M213.5 391.21H215.6 M213.5 379.13H215.6 M213.5 367.06H215.6 M213.5 354.98H215.6 M213.5 342.9H215.6 M216.1 452.1V455.9 M230.92 452.1V455.9 M245.74 452.1V455.9 M260.56 452.1V455.9 M275.38 452.1V455.9 M290.2 452.1V455.9 M305.02 452.1V455.9 M319.84 452.1V455.9" stroke="#000" stroke-width="1.2" fill="none"></path>
<text x="208.7" y="455.48" font-size="9.4" font-weight="bold" text-anchor="end"> 0</text>
<text x="209.3" y="452.8" font-size="6.4" font-weight="bold">0</text>
<text x="208.7" y="443.41" font-size="9.4" font-weight="bold" text-anchor="end"> 0</text>
<text x="209.3" y="440.72" font-size="6.4" font-weight="bold"> </text>
<text x="208.7" y="431.33" font-size="9.4" font-weight="bold" text-anchor="end"> 0</text>
<text x="209.3" y="428.64" font-size="6.4" font-weight="bold">2</text>
<text x="208.7" y="419.25" font-size="9.4" font-weight="bold" text-anchor="end"> 0</text>
<text x="209.3" y="416.57" font-size="6.4" font-weight="bold">3</text>
<text x="208.7" y="407.17" font-size="9.4" font-weight="bold" text-anchor="end"> 0</text>
<text x="209.3" y="404.49" font-size="6.4" font-weight="bold">4</text>
<text x="208.7" y="395.1" font-size="9.4" font-weight="bold" text-anchor="end"> 0</text>
<text x="209.3" y="392.41" font-size="6.4" font-weight="bold">5</text>
<text x="208.7" y="383.02" font-size="9.4" font-weight="bold" text-anchor="end"> 0</text>
<text x="209.3" y="380.33" font-size="6.4" font-weight="bold">6</text>
<text x="208.7" y="370.94" font-size="9.4" font-weight="bold" text-anchor="end"> 0</text>
<text x="209.3" y="368.26" font-size="6.4" font-weight="bold">7</text>
<text x="208.7" y="358.86" font-size="9.4" font-weight="bold" text-anchor="end"> 0</text>
<text x="209.3" y="356.18" font-size="6.4" font-weight="bold">8</text>
<text x="208.7" y="346.78" font-size="9.4" font-weight="bold" text-anchor="end"> 0</text>
<text x="209.3" y="344.1" font-size="6.4" font-weight="bold">9</text>
<text x="216.1" y="462.9" font-size="7.5" font-weight="bold" text-anchor="middle"> 0</text>
<text x="230.92" y="462.9" font-size="7.5" font-weight="bold" text-anchor="middle"> 5</text>
<text x="245.74" y="462.9" font-size="7.5" font-weight="bold" text-anchor="middle">20</text>
<text x="260.56" y="462.9" font-size="7.5" font-weight="bold" text-anchor="middle">25</text>
<text x="275.38" y="462.9" font-size="7.5" font-weight="bold" text-anchor="middle">30</text>
<text x="290.2" y="462.9" font-size="7.5" font-weight="bold" text-anchor="middle">35</text>
<text x="305.02" y="462.9" font-size="7.5" font-weight="bold" text-anchor="middle">40</text>
<text x="319.84" y="462.9" font-size="7.5" font-weight="bold" text-anchor="middle">45</text>
<text x="269.45" y="477.9" font-size="8.75" font-weight="bold" text-anchor="middle">Study Day</text>
<text transform="translate(190.3 394.65) rotate(-90)" font-size="9.35" font-weight="bold" text-anchor="middle">Transcripts/mL</text>
<polyline points="216.1,408.72 219.06,403.29 224.99,408.72 230.92,387.71 239.81,376.72 251.67,373.7 260.56,361.98 266.49,358.72 272.41,366.09 281.31,380.7 293.16,451.6 302.05,404.01 322.8,451.6" fill="none" stroke="#5a8ed1" stroke-width="1.25" stroke-linejoin="round"></polyline>
<polyline points="216.1,451.6 219.06,451.6 230.92,416.21 239.81,405.46 251.67,401.11 260.56,394.59 266.49,392.18 281.31,406.31 293.16,451.6 302.05,435.66 322.8,451.6" fill="none" stroke="#e95d58" stroke-width="1.25" stroke-linejoin="round"></polyline>
<text x="367.6" y="290.6" font-size="20.3" font-weight="bold">g</text>
<text x="449" y="306.1" font-size="10" font-weight="bold" text-anchor="middle">Participant 2</text>
<text x="449" y="317.6" font-size="10" font-weight="bold" text-anchor="middle">(control)</text>
<line x1="460.89" y1="342.9" x2="460.89" y2="451.6" stroke="#222" stroke-width="0.9" stroke-dasharray="1.55 1.55"></line>
<line x1="484.67" y1="342.9" x2="484.67" y2="451.6" stroke="#222" stroke-width="0.9" stroke-dasharray="1.55 1.55"></line>
<text x="460.89" y="341.1" font-size="7.9" font-weight="bold" text-anchor="middle">A/L</text>
<text x="484.67" y="341.1" font-size="7.9" font-weight="bold" text-anchor="middle">PQ</text>
<path d="M395.5 342.9H502.5" fill="none" stroke="#8a8a8a" stroke-width="1.4"></path>
<path d="M502.5 342.4V453.1" fill="none" stroke="#666" stroke-width="1.3"></path>
<path d="M395.5 342.9V451.6H502.5" fill="none" stroke="#707070" stroke-width="1.0"></path>
<path d="M393.5 447.96H395 M393.5 445.84H395 M393.5 444.33H395 M393.5 443.16H395 M393.5 442.2H395 M393.5 441.39H395 M393.5 440.69H395 M393.5 440.07H395 M393.5 435.89H395 M393.5 433.76H395 M393.5 432.25H395 M393.5 431.08H395 M393.5 430.12H395 M393.5 429.32H395 M393.5 428.61H395 M393.5 428H395 M393.5 423.81H395 M393.5 421.68H395 M393.5 420.17H395 M393.5 419H395 M393.5 418.05H395 M393.5 417.24H395 M393.5 416.54H395 M393.5 415.92H395 M393.5 411.73H395 M393.5 409.6H395 M393.5 408.1H395 M393.5 406.92H395 M393.5 405.97H395 M393.5 405.16H395 M393.5 404.46H395 M393.5 403.84H395 M393.5 399.65H395 M393.5 397.53H395 M393.5 396.02H395 M393.5 394.85H395 M393.5 393.89H395 M393.5 393.08H395 M393.5 392.38H395 M393.5 391.76H395 M393.5 387.58H395 M393.5 385.45H395 M393.5 383.94H395 M393.5 382.77H395 M393.5 381.81H395 M393.5 381H395 M393.5 380.3H395 M393.5 379.69H395 M393.5 375.5H395 M393.5 373.37H395 M393.5 371.86H395 M393.5 370.69H395 M393.5 369.73H395 M393.5 368.93H395 M393.5 368.23H395 M393.5 367.61H395 M393.5 363.42H395 M393.5 361.29H395 M393.5 359.78H395 M393.5 358.61H395 M393.5 357.66H395 M393.5 356.85H395 M393.5 356.15H395 M393.5 355.53H395 M393.5 351.34H395 M393.5 349.22H395 M393.5 347.71H395 M393.5 346.54H395 M393.5 345.58H395 M393.5 344.77H395 M393.5 344.07H395 M393.5 343.45H395 M398.47 452.1V453.9 M401.44 452.1V453.9 M404.42 452.1V453.9 M407.39 452.1V453.9 M413.33 452.1V453.9 M416.31 452.1V453.9 M419.28 452.1V453.9 M422.25 452.1V453.9 M428.19 452.1V453.9 M431.17 452.1V453.9 M434.14 452.1V453.9 M437.11 452.1V453.9 M443.06 452.1V453.9 M446.03 452.1V453.9 M449 452.1V453.9 M451.97 452.1V453.9 M457.92 452.1V453.9 M460.89 452.1V453.9 M463.86 452.1V453.9 M466.83 452.1V453.9 M472.78 452.1V453.9 M475.75 452.1V453.9 M478.72 452.1V453.9 M481.69 452.1V453.9 M487.64 452.1V453.9 M490.61 452.1V453.9 M493.58 452.1V453.9 M496.56 452.1V453.9 M502.5 452.1V453.9" stroke="#222" stroke-width="0.85" fill="none"></path>
<path d="M392.9 451.6H395 M392.9 439.52H395 M392.9 427.44H395 M392.9 415.37H395 M392.9 403.29H395 M392.9 391.21H395 M392.9 379.13H395 M392.9 367.06H395 M392.9 354.98H395 M392.9 342.9H395 M395.5 452.1V455.9 M410.36 452.1V455.9 M425.22 452.1V455.9 M440.08 452.1V455.9 M454.94 452.1V455.9 M469.81 452.1V455.9 M484.67 452.1V455.9 M499.53 452.1V455.9" stroke="#000" stroke-width="1.2" fill="none"></path>
<text x="388.1" y="455.48" font-size="9.4" font-weight="bold" text-anchor="end"> 0</text>
<text x="388.7" y="452.8" font-size="6.4" font-weight="bold">0</text>
<text x="388.1" y="443.41" font-size="9.4" font-weight="bold" text-anchor="end"> 0</text>
<text x="388.7" y="440.72" font-size="6.4" font-weight="bold"> </text>
<text x="388.1" y="431.33" font-size="9.4" font-weight="bold" text-anchor="end"> 0</text>
<text x="388.7" y="428.64" font-size="6.4" font-weight="bold">2</text>
<text x="388.1" y="419.25" font-size="9.4" font-weight="bold" text-anchor="end"> 0</text>
<text x="388.7" y="416.57" font-size="6.4" font-weight="bold">3</text>
<text x="388.1" y="407.17" font-size="9.4" font-weight="bold" text-anchor="end"> 0</text>
<text x="388.7" y="404.49" font-size="6.4" font-weight="bold">4</text>
<text x="388.1" y="395.1" font-size="9.4" font-weight="bold" text-anchor="end"> 0</text>
<text x="388.7" y="392.41" font-size="6.4" font-weight="bold">5</text>
<text x="388.1" y="383.02" font-size="9.4" font-weight="bold" text-anchor="end"> 0</text>
<text x="388.7" y="380.33" font-size="6.4" font-weight="bold">6</text>
<text x="388.1" y="370.94" font-size="9.4" font-weight="bold" text-anchor="end"> 0</text>
<text x="388.7" y="368.26" font-size="6.4" font-weight="bold">7</text>
<text x="388.1" y="358.86" font-size="9.4" font-weight="bold" text-anchor="end"> 0</text>
<text x="388.7" y="356.18" font-size="6.4" font-weight="bold">8</text>
<text x="388.1" y="346.78" font-size="9.4" font-weight="bold" text-anchor="end"> 0</text>
<text x="388.7" y="344.1" font-size="6.4" font-weight="bold">9</text>
<text x="395.5" y="462.9" font-size="7.5" font-weight="bold" text-anchor="middle"> 0</text>
<text x="410.36" y="462.9" font-size="7.5" font-weight="bold" text-anchor="middle"> 5</text>
<text x="425.22" y="462.9" font-size="7.5" font-weight="bold" text-anchor="middle">20</text>
<text x="440.08" y="462.9" font-size="7.5" font-weight="bold" text-anchor="middle">25</text>
<text x="454.94" y="462.9" font-size="7.5" font-weight="bold" text-anchor="middle">30</text>
<text x="469.81" y="462.9" font-size="7.5" font-weight="bold" text-anchor="middle">35</text>
<text x="484.67" y="462.9" font-size="7.5" font-weight="bold" text-anchor="middle">40</text>
<text x="499.53" y="462.9" font-size="7.5" font-weight="bold" text-anchor="middle">45</text>
<text x="449" y="477.9" font-size="8.75" font-weight="bold" text-anchor="middle">Study Day</text>
<text transform="translate(369.7 394.65) rotate(-90)" font-size="9.35" font-weight="bold" text-anchor="middle">Transcripts/mL</text>
<polyline points="395.5,392.42 398.47,397.85 404.42,376.72 410.36,361.38 419.28,350.87 431.17,350.87 440.08,352.92 451.97,350.87 460.89,349.54 472.78,409.81 481.69,396.16 484.67,396.53 490.61,398.46 502.5,408" fill="none" stroke="#5a8ed1" stroke-width="1.25" stroke-linejoin="round"></polyline>
<polyline points="395.5,451.6 398.47,428.05 410.36,393.02 419.28,381.91 431.17,382.76 440.08,388.07 451.97,383.48 460.89,383.48 472.78,405.95 481.69,391.94 490.61,407.15 502.5,422.73" fill="none" stroke="#e95d58" stroke-width="1.25" stroke-linejoin="round"></polyline>
<text x="547.9" y="290.6" font-size="20.3" font-weight="bold">h</text>
<text x="629" y="306.1" font-size="10" font-weight="bold" text-anchor="middle">Participant 3</text>
<text x="629" y="317.6" font-size="10" font-weight="bold" text-anchor="middle">(control)</text>
<line x1="661.69" y1="342.9" x2="661.69" y2="451.6" stroke="#222" stroke-width="0.9" stroke-dasharray="1.55 1.55"></line>
<line x1="664.67" y1="342.9" x2="664.67" y2="451.6" stroke="#222" stroke-width="0.9" stroke-dasharray="1.55 1.55"></line>
<text x="662.59" y="341.1" font-size="7.55" font-weight="bold" text-anchor="middle">A/L + PQ</text>
<path d="M575.5 342.9H682.5" fill="none" stroke="#8a8a8a" stroke-width="1.4"></path>
<path d="M682.5 342.4V453.1" fill="none" stroke="#444" stroke-width="1.1"></path>
<path d="M575.5 342.9V451.6H682.5" fill="none" stroke="#707070" stroke-width="1.0"></path>
<path d="M573.5 447.96H575 M573.5 445.84H575 M573.5 444.33H575 M573.5 443.16H575 M573.5 442.2H575 M573.5 441.39H575 M573.5 440.69H575 M573.5 440.07H575 M573.5 435.89H575 M573.5 433.76H575 M573.5 432.25H575 M573.5 431.08H575 M573.5 430.12H575 M573.5 429.32H575 M573.5 428.61H575 M573.5 428H575 M573.5 423.81H575 M573.5 421.68H575 M573.5 420.17H575 M573.5 419H575 M573.5 418.05H575 M573.5 417.24H575 M573.5 416.54H575 M573.5 415.92H575 M573.5 411.73H575 M573.5 409.6H575 M573.5 408.1H575 M573.5 406.92H575 M573.5 405.97H575 M573.5 405.16H575 M573.5 404.46H575 M573.5 403.84H575 M573.5 399.65H575 M573.5 397.53H575 M573.5 396.02H575 M573.5 394.85H575 M573.5 393.89H575 M573.5 393.08H575 M573.5 392.38H575 M573.5 391.76H575 M573.5 387.58H575 M573.5 385.45H575 M573.5 383.94H575 M573.5 382.77H575 M573.5 381.81H575 M573.5 381H575 M573.5 380.3H575 M573.5 379.69H575 M573.5 375.5H575 M573.5 373.37H575 M573.5 371.86H575 M573.5 370.69H575 M573.5 369.73H575 M573.5 368.93H575 M573.5 368.23H575 M573.5 367.61H575 M573.5 363.42H575 M573.5 361.29H575 M573.5 359.78H575 M573.5 358.61H575 M573.5 357.66H575 M573.5 356.85H575 M573.5 356.15H575 M573.5 355.53H575 M573.5 351.34H575 M573.5 349.22H575 M573.5 347.71H575 M573.5 346.54H575 M573.5 345.58H575 M573.5 344.77H575 M573.5 344.07H575 M573.5 343.45H575 M578.47 452.1V453.9 M581.44 452.1V453.9 M584.42 452.1V453.9 M587.39 452.1V453.9 M593.33 452.1V453.9 M596.31 452.1V453.9 M599.28 452.1V453.9 M602.25 452.1V453.9 M608.19 452.1V453.9 M611.17 452.1V453.9 M614.14 452.1V453.9 M617.11 452.1V453.9 M623.06 452.1V453.9 M626.03 452.1V453.9 M629 452.1V453.9 M631.97 452.1V453.9 M637.92 452.1V453.9 M640.89 452.1V453.9 M643.86 452.1V453.9 M646.83 452.1V453.9 M652.78 452.1V453.9 M655.75 452.1V453.9 M658.72 452.1V453.9 M661.69 452.1V453.9 M667.64 452.1V453.9 M670.61 452.1V453.9 M673.58 452.1V453.9 M676.56 452.1V453.9 M682.5 452.1V453.9" stroke="#222" stroke-width="0.85" fill="none"></path>
<path d="M572.9 451.6H575 M572.9 439.52H575 M572.9 427.44H575 M572.9 415.37H575 M572.9 403.29H575 M572.9 391.21H575 M572.9 379.13H575 M572.9 367.06H575 M572.9 354.98H575 M572.9 342.9H575 M575.5 452.1V455.9 M590.36 452.1V455.9 M605.22 452.1V455.9 M620.08 452.1V455.9 M634.94 452.1V455.9 M649.81 452.1V455.9 M664.67 452.1V455.9 M679.53 452.1V455.9" stroke="#000" stroke-width="1.2" fill="none"></path>
<text x="568.1" y="455.48" font-size="9.4" font-weight="bold" text-anchor="end"> 0</text>
<text x="568.7" y="452.8" font-size="6.4" font-weight="bold">0</text>
<text x="568.1" y="443.41" font-size="9.4" font-weight="bold" text-anchor="end"> 0</text>
<text x="568.7" y="440.72" font-size="6.4" font-weight="bold"> </text>
<text x="568.1" y="431.33" font-size="9.4" font-weight="bold" text-anchor="end"> 0</text>
<text x="568.7" y="428.64" font-size="6.4" font-weight="bold">2</text>
<text x="568.1" y="419.25" font-size="9.4" font-weight="bold" text-anchor="end"> 0</text>
<text x="568.7" y="416.57" font-size="6.4" font-weight="bold">3</text>
<text x="568.1" y="407.17" font-size="9.4" font-weight="bold" text-anchor="end"> 0</text>
<text x="568.7" y="404.49" font-size="6.4" font-weight="bold">4</text>
<text x="568.1" y="395.1" font-size="9.4" font-weight="bold" text-anchor="end"> 0</text>
<text x="568.7" y="392.41" font-size="6.4" font-weight="bold">5</text>
<text x="568.1" y="383.02" font-size="9.4" font-weight="bold" text-anchor="end"> 0</text>
<text x="568.7" y="380.33" font-size="6.4" font-weight="bold">6</text>
<text x="568.1" y="370.94" font-size="9.4" font-weight="bold" text-anchor="end"> 0</text>
<text x="568.7" y="368.26" font-size="6.4" font-weight="bold">7</text>
<text x="568.1" y="358.86" font-size="9.4" font-weight="bold" text-anchor="end"> 0</text>
<text x="568.7" y="356.18" font-size="6.4" font-weight="bold">8</text>
<text x="568.1" y="346.78" font-size="9.4" font-weight="bold" text-anchor="end"> 0</text>
<text x="568.7" y="344.1" font-size="6.4" font-weight="bold">9</text>
<text x="575.5" y="462.9" font-size="7.5" font-weight="bold" text-anchor="middle"> 0</text>
<text x="590.36" y="462.9" font-size="7.5" font-weight="bold" text-anchor="middle"> 5</text>
<text x="605.22" y="462.9" font-size="7.5" font-weight="bold" text-anchor="middle">20</text>
<text x="620.08" y="462.9" font-size="7.5" font-weight="bold" text-anchor="middle">25</text>
<text x="634.94" y="462.9" font-size="7.5" font-weight="bold" text-anchor="middle">30</text>
<text x="649.81" y="462.9" font-size="7.5" font-weight="bold" text-anchor="middle">35</text>
<text x="664.67" y="462.9" font-size="7.5" font-weight="bold" text-anchor="middle">40</text>
<text x="679.53" y="462.9" font-size="7.5" font-weight="bold" text-anchor="middle">45</text>
<text x="629" y="477.9" font-size="8.75" font-weight="bold" text-anchor="middle">Study Day</text>
<text transform="translate(549.7 394.65) rotate(-90)" font-size="9.35" font-weight="bold" text-anchor="middle">Transcripts/mL</text>
<polyline points="575.5,403.41 578.47,406.07 590.36,380.34 599.28,379.5 611.17,374.79 620.08,370.2 626.03,371.04 631.97,372.61 640.89,369.83 652.78,381.55 661.69,375.51 664.67,380.7 670.61,396.04 682.5,451.6" fill="none" stroke="#5a8ed1" stroke-width="1.25" stroke-linejoin="round"></polyline>
<polyline points="575.5,451.6 578.47,432.4 590.36,409.93 599.28,406.91 611.17,405.22 620.08,402.44 623.06,403.65 631.97,405.46 640.89,404.38 652.78,417.42 661.69,411.02 664.67,412.23 670.61,416.57 682.5,451.6" fill="none" stroke="#e95d58" stroke-width="1.25" stroke-linejoin="round"></polyline>
<line x1="152.3" y1="230.2" x2="170.7" y2="230.2" stroke="#111" stroke-width="2.4"></line>
<text x="182" y="234.3" font-size="8.95" font-weight="bold">Total parasites/mL ( 8S qPCR)</text>
<path d="M345.8 226.2L349.3 229.8L345.8 233.4L342.3 229.8Z" fill="#fff" stroke="#111" stroke-width="1.7"></path>
<line x1="336.6" y1="229.8" x2="355.1" y2="229.8" stroke="#111" stroke-width="1.8"></line>
<text x="366" y="234.4" font-size="9" font-weight="bold">ring stage parasites (<tspan font-style="italic">pfSBP </tspan> transcript)</text>
<line x1="117" y1="504.4" x2="136" y2="504.4" stroke="#5a8ed1" stroke-width="2.3"></line>
<text x="146.3" y="507.7" font-size="9.05" font-weight="bold"><tspan font-style="italic">pfs25</tspan> transcripts/mL (female gametocytes)</text>
<line x1="354.7" y1="504.4" x2="373.6" y2="504.4" stroke="#e95d58" stroke-width="2.3"></line>
<text x="384" y="507.7" font-size="9.05" font-weight="bold"><tspan font-style="italic">pfMGET</tspan> transcripts/mL (male gametocytes)</text>
<use href="#o1" class="g1" transform="translate(114.39 31.60) scale(0.00488 -0.00488)"></use><use href="#o1" class="g1" transform="translate(17.63 181.71) scale(0.00503 -0.00503)"></use><use href="#o1" class="g1" transform="translate(17.63 163.57) scale(0.00503 -0.00503)"></use><use href="#o1" class="g1" transform="translate(29.70 160.57) scale(0.00313 -0.00313)"></use><use href="#o1" class="g1" transform="translate(17.63 145.44) scale(0.00503 -0.00503)"></use><use href="#o1" class="g1" transform="translate(17.63 127.31) scale(0.00503 -0.00503)"></use><use href="#o1" class="g1" transform="translate(17.63 109.17) scale(0.00503 -0.00503)"></use><use href="#o1" class="g1" transform="translate(17.63 91.04) scale(0.00503 -0.00503)"></use><use href="#o1" class="g1" transform="translate(17.63 72.91) scale(0.00503 -0.00503)"></use><use href="#o1" class="g1" transform="translate(57.78 188.80) scale(0.00366 -0.00366)"></use><use href="#o1" class="g1" transform="translate(70.51 188.80) scale(0.00366 -0.00366)"></use><use href="#o1" class="g1" transform="translate(197.23 181.71) scale(0.00503 -0.00503)"></use><use href="#o1" class="g1" transform="translate(197.23 163.57) scale(0.00503 -0.00503)"></use><use href="#o1" class="g1" transform="translate(209.30 160.57) scale(0.00313 -0.00313)"></use><use href="#o1" class="g1" transform="translate(197.23 145.44) scale(0.00503 -0.00503)"></use><use href="#o1" class="g1" transform="translate(197.23 127.31) scale(0.00503 -0.00503)"></use><use href="#o1" class="g1" transform="translate(197.23 109.17) scale(0.00503 -0.00503)"></use><use href="#o1" class="g1" transform="translate(197.23 91.04) scale(0.00503 -0.00503)"></use><use href="#o1" class="g1" transform="translate(197.23 72.91) scale(0.00503 -0.00503)"></use><use href="#o1" class="g1" transform="translate(233.29 188.80) scale(0.00366 -0.00366)"></use><use href="#o1" class="g1" transform="translate(243.97 188.80) scale(0.00366 -0.00366)"></use><use href="#o1" class="g1" transform="translate(376.73 181.71) scale(0.00503 -0.00503)"></use><use href="#o1" class="g1" transform="translate(376.73 163.57) scale(0.00503 -0.00503)"></use><use href="#o1" class="g1" transform="translate(388.80 160.57) scale(0.00313 -0.00313)"></use><use href="#o1" class="g1" transform="translate(376.73 145.44) scale(0.00503 -0.00503)"></use><use href="#o1" class="g1" transform="translate(376.73 127.31) scale(0.00503 -0.00503)"></use><use href="#o1" class="g1" transform="translate(376.73 109.17) scale(0.00503 -0.00503)"></use><use href="#o1" class="g1" transform="translate(376.73 91.04) scale(0.00503 -0.00503)"></use><use href="#o1" class="g1" transform="translate(376.73 72.91) scale(0.00503 -0.00503)"></use><use href="#o1" class="g1" transform="translate(414.67 188.80) scale(0.00366 -0.00366)"></use><use href="#o1" class="g1" transform="translate(426.29 188.80) scale(0.00366 -0.00366)"></use><use href="#o1" class="g1" transform="translate(556.73 181.71) scale(0.00503 -0.00503)"></use><use href="#o1" class="g1" transform="translate(556.73 163.57) scale(0.00503 -0.00503)"></use><use href="#o1" class="g1" transform="translate(568.80 160.57) scale(0.00313 -0.00313)"></use><use href="#o1" class="g1" transform="translate(556.73 145.44) scale(0.00503 -0.00503)"></use><use href="#o1" class="g1" transform="translate(556.73 127.31) scale(0.00503 -0.00503)"></use><use href="#o1" class="g1" transform="translate(556.73 109.17) scale(0.00503 -0.00503)"></use><use href="#o1" class="g1" transform="translate(556.73 91.04) scale(0.00503 -0.00503)"></use><use href="#o1" class="g1" transform="translate(556.73 72.91) scale(0.00503 -0.00503)"></use><use href="#o1" class="g1" transform="translate(594.69 188.80) scale(0.00366 -0.00366)"></use><use href="#o1" class="g1" transform="translate(606.32 188.80) scale(0.00366 -0.00366)"></use><use href="#o1" class="g1" transform="translate(114.34 306.10) scale(0.00488 -0.00488)"></use><use href="#o1" class="g1" transform="translate(18.19 455.63) scale(0.00479 -0.00479)"></use><use href="#o1" class="g1" transform="translate(18.19 443.55) scale(0.00479 -0.00479)"></use><use href="#o1" class="g1" transform="translate(29.70 440.72) scale(0.00313 -0.00313)"></use><use href="#o1" class="g1" transform="translate(18.19 431.47) scale(0.00479 -0.00479)"></use><use href="#o1" class="g1" transform="translate(18.19 419.39) scale(0.00479 -0.00479)"></use><use href="#o1" class="g1" transform="translate(18.19 407.32) scale(0.00479 -0.00479)"></use><use href="#o1" class="g1" transform="translate(18.19 395.24) scale(0.00479 -0.00479)"></use><use href="#o1" class="g1" transform="translate(18.19 383.16) scale(0.00479 -0.00479)"></use><use href="#o1" class="g1" transform="translate(18.19 371.08) scale(0.00479 -0.00479)"></use><use href="#o1" class="g1" transform="translate(18.19 359.01) scale(0.00479 -0.00479)"></use><use href="#o1" class="g1" transform="translate(18.19 346.93) scale(0.00479 -0.00479)"></use><use href="#o1" class="g1" transform="translate(32.33 462.90) scale(0.00366 -0.00366)"></use><use href="#o1" class="g1" transform="translate(49.02 462.90) scale(0.00366 -0.00366)"></use><use href="#o1" class="g1" transform="translate(198.26 455.48) scale(0.00459 -0.00459)"></use><use href="#o1" class="g1" transform="translate(198.26 443.41) scale(0.00459 -0.00459)"></use><use href="#o1" class="g1" transform="translate(209.30 440.72) scale(0.00313 -0.00313)"></use><use href="#o1" class="g1" transform="translate(198.26 431.33) scale(0.00459 -0.00459)"></use><use href="#o1" class="g1" transform="translate(198.26 419.25) scale(0.00459 -0.00459)"></use><use href="#o1" class="g1" transform="translate(198.26 407.17) scale(0.00459 -0.00459)"></use><use href="#o1" class="g1" transform="translate(198.26 395.10) scale(0.00459 -0.00459)"></use><use href="#o1" class="g1" transform="translate(198.26 383.02) scale(0.00459 -0.00459)"></use><use href="#o1" class="g1" transform="translate(198.26 370.94) scale(0.00459 -0.00459)"></use><use href="#o1" class="g1" transform="translate(198.26 358.86) scale(0.00459 -0.00459)"></use><use href="#o1" class="g1" transform="translate(198.26 346.78) scale(0.00459 -0.00459)"></use><use href="#o1" class="g1" transform="translate(211.93 462.90) scale(0.00366 -0.00366)"></use><use href="#o1" class="g1" transform="translate(226.75 462.90) scale(0.00366 -0.00366)"></use><use href="#o1" class="g1" transform="translate(377.66 455.48) scale(0.00459 -0.00459)"></use><use href="#o1" class="g1" transform="translate(377.66 443.41) scale(0.00459 -0.00459)"></use><use href="#o1" class="g1" transform="translate(388.70 440.72) scale(0.00313 -0.00313)"></use><use href="#o1" class="g1" transform="translate(377.66 431.33) scale(0.00459 -0.00459)"></use><use href="#o1" class="g1" transform="translate(377.66 419.25) scale(0.00459 -0.00459)"></use><use href="#o1" class="g1" transform="translate(377.66 407.17) scale(0.00459 -0.00459)"></use><use href="#o1" class="g1" transform="translate(377.66 395.10) scale(0.00459 -0.00459)"></use><use href="#o1" class="g1" transform="translate(377.66 383.02) scale(0.00459 -0.00459)"></use><use href="#o1" class="g1" transform="translate(377.66 370.94) scale(0.00459 -0.00459)"></use><use href="#o1" class="g1" transform="translate(377.66 358.86) scale(0.00459 -0.00459)"></use><use href="#o1" class="g1" transform="translate(377.66 346.78) scale(0.00459 -0.00459)"></use><use href="#o1" class="g1" transform="translate(391.33 462.90) scale(0.00366 -0.00366)"></use><use href="#o1" class="g1" transform="translate(406.19 462.90) scale(0.00366 -0.00366)"></use><use href="#o1" class="g1" transform="translate(557.66 455.48) scale(0.00459 -0.00459)"></use><use href="#o1" class="g1" transform="translate(557.66 443.41) scale(0.00459 -0.00459)"></use><use href="#o1" class="g1" transform="translate(568.70 440.72) scale(0.00313 -0.00313)"></use><use href="#o1" class="g1" transform="translate(557.66 431.33) scale(0.00459 -0.00459)"></use><use href="#o1" class="g1" transform="translate(557.66 419.25) scale(0.00459 -0.00459)"></use><use href="#o1" class="g1" transform="translate(557.66 407.17) scale(0.00459 -0.00459)"></use><use href="#o1" class="g1" transform="translate(557.66 395.10) scale(0.00459 -0.00459)"></use><use href="#o1" class="g1" transform="translate(557.66 383.02) scale(0.00459 -0.00459)"></use><use href="#o1" class="g1" transform="translate(557.66 370.94) scale(0.00459 -0.00459)"></use><use href="#o1" class="g1" transform="translate(557.66 358.86) scale(0.00459 -0.00459)"></use><use href="#o1" class="g1" transform="translate(557.66 346.78) scale(0.00459 -0.00459)"></use><use href="#o1" class="g1" transform="translate(571.33 462.90) scale(0.00366 -0.00366)"></use><use href="#o1" class="g1" transform="translate(586.19 462.90) scale(0.00366 -0.00366)"></use><use href="#o1" class="g1" transform="translate(265.59 234.30) scale(0.00437 -0.00437)"></use><use href="#o2" class="g1" transform="translate(483.55 234.40) scale(0.00439 -0.00439)"></use></svg>

</body></html>
